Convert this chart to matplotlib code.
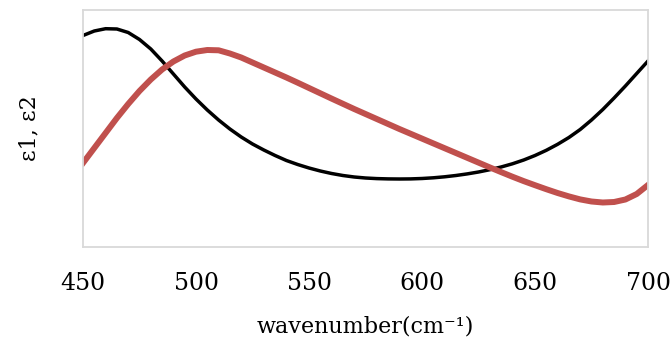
import matplotlib
matplotlib.use("Agg")
import matplotlib.pyplot as plt

wavenumber = [450, 455, 460, 465, 470, 475, 480, 485, 490, 495,
              500, 505, 510, 515, 520, 525, 530, 535, 540, 545,
              550, 555, 560, 565, 570, 575, 580, 585, 590, 595,
              600, 605, 610, 615, 620, 625, 630, 635, 640, 645,
              650, 655, 660, 665, 670, 675, 680, 685, 690, 695, 700]
eps1 = [211.5, 216, 218.3, 218, 214.5, 207.5, 198, 186, 173, 160,
        148, 137, 127, 118, 110, 103, 97, 91.5, 86.5, 82.5,
        79, 76, 73.5, 71.5, 70, 69, 68.4, 68.1, 68, 68.1,
        68.5, 69.2, 70.2, 71.5, 73.1, 75, 77.3, 80, 83.2, 87,
        91.5, 96.7, 102.7, 109.5, 117.5, 127, 137.5, 149, 161, 173.5, 186]
eps2 = [84, 99, 114, 129, 143, 156, 167.5, 177.5, 185.5, 191.5,
        195.3, 197, 196.7, 193.5, 189.5, 184.5, 179.5, 174.5, 169.5, 164.3,
        159, 153.7, 148.4, 143.2, 138, 133, 128, 123, 118, 113.2,
        108.4, 103.6, 98.8, 94, 89.2, 84.4, 79.6, 74.9, 70.3, 65.9,
        61.8, 57.8, 54, 50.6, 47.6, 45.5, 44.5, 45, 47.5, 53, 62]
xticks = [450, 500, 550, 600, 650, 700]

plt.rcParams['font.family'] = ['DejaVu Serif']

fig = plt.figure(figsize=(6.71, 3.42), dpi=100)
ax = fig.add_axes([83/671, 1-247/342, (648-83)/671, (247-10)/342])

ax.plot(wavenumber, eps1, color='black', lw=2.5, solid_joinstyle='round')
ax.plot(wavenumber, eps2, color='#C0504D', lw=4.3, solid_joinstyle='round')

ax.set_xlim(450, 700)
ax.set_ylim(0, 237)
ax.set_xticks(xticks)
ax.set_xticklabels([str(t) for t in xticks])
ax.set_yticks([])
ax.tick_params(axis='x', length=0, pad=18, labelsize=17)
for s in ax.spines.values():
    s.set_color('#D9D9D9')
    s.set_linewidth(1.3)

ax.set_xlabel('wavenumber(cm⁻¹)', fontsize=16, labelpad=15)
ax.set_ylabel('ε1, ε2', fontsize=16, labelpad=31)

fig.savefig('out.png', dpi=100)
